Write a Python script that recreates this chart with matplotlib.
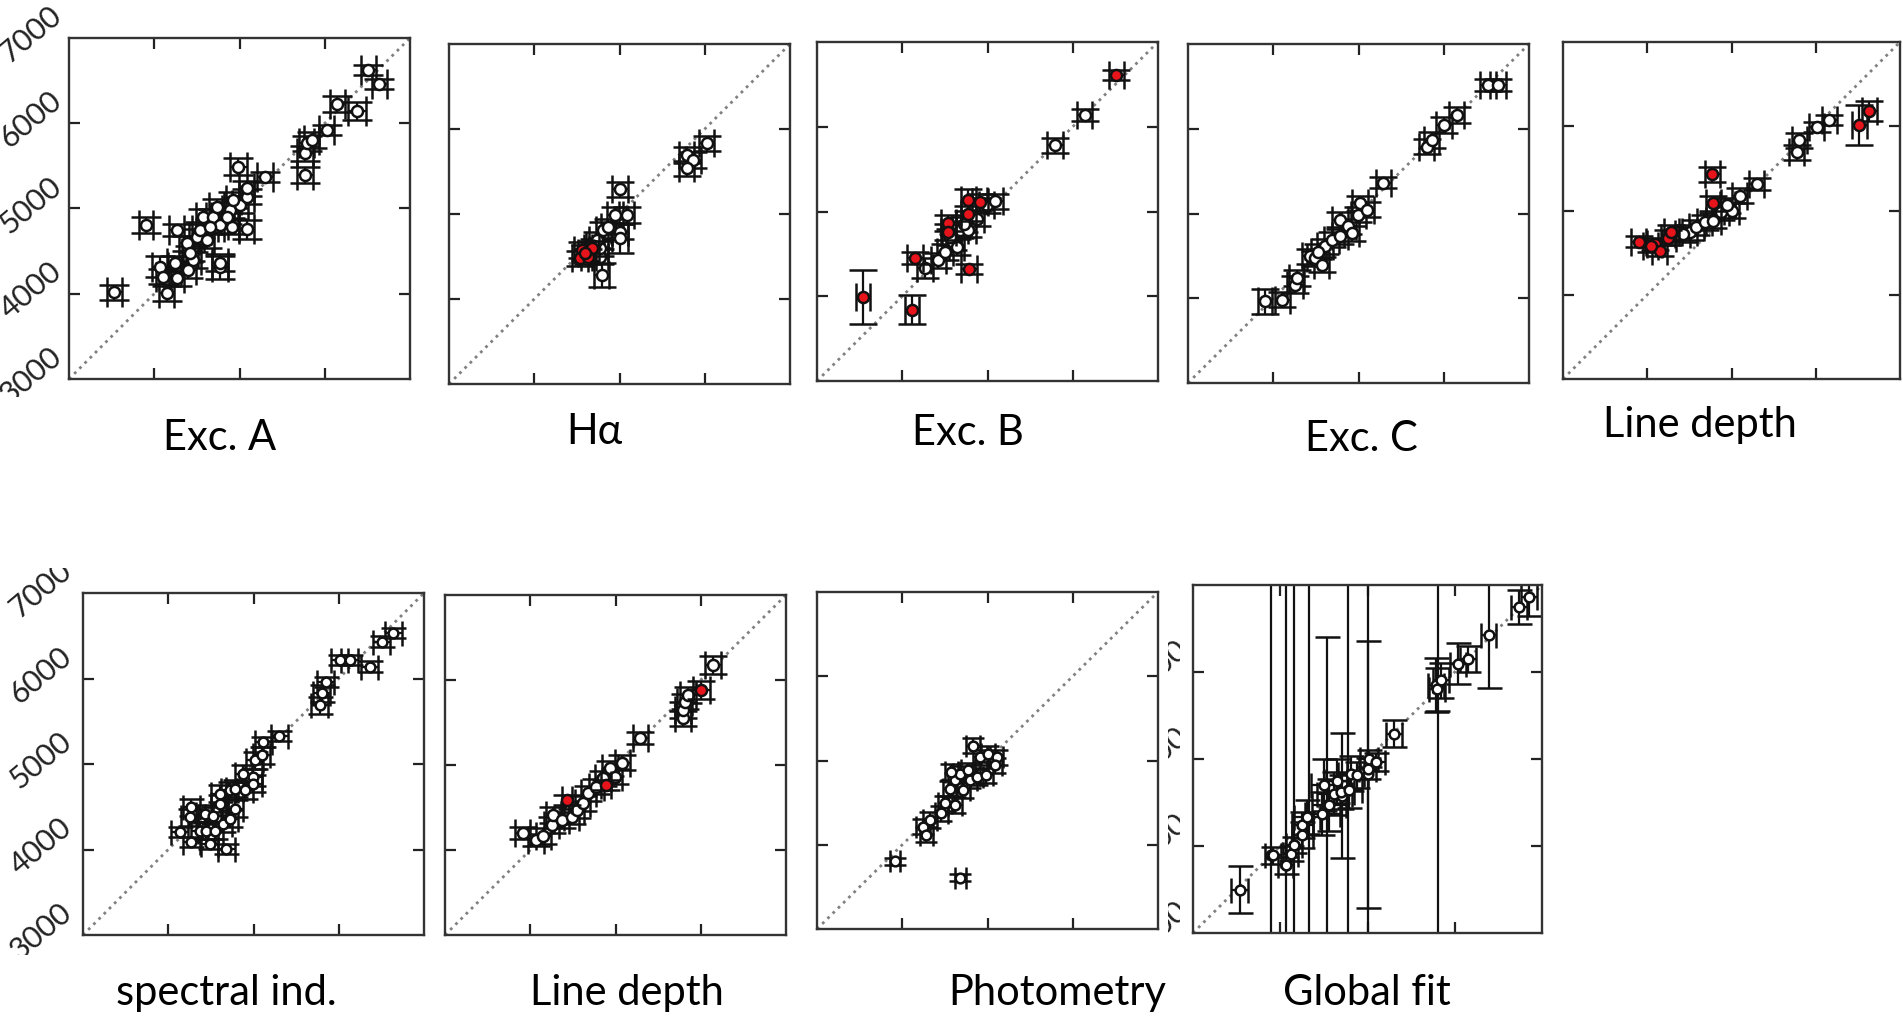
import matplotlib.pyplot as plt
from matplotlib.transforms import Bbox, blended_transform_factory

# ---- data (Teff, K) ----
# Exc. A
A_X = [3532, 3903, 4146, 4067, 4106, 4263, 4243, 4458, 4497, 4536, 4263, 4614, 4575, 4693, 4732,
       4771, 4888, 4908, 5005, 5083, 5083, 5083, 4986, 4771, 4771, 5299, 5768, 5768, 5788, 5846,
       6022, 6147, 6374, 6511, 6640, 4380, 4419, 4849, 4654, 4927, 4400]
A_Y = [4017, 4806, 4005, 4318, 4200, 4181, 4357, 4396, 4670, 4748, 4748, 4630, 4904, 4904, 5022,
       4806, 4982, 4787, 5041, 5139, 5237, 4756, 5491, 4318, 4357, 5373, 5393, 5647, 5764, 5804,
       5921, 6226, 6144, 6625, 6456, 4591, 4474, 4904, 4787, 5100, 4280]
A_XE = [85, 85, 90, 90, 90, 90, 90, 90, 90, 90, 90, 90, 90, 90, 90,
        90, 90, 90, 90, 90, 90, 90, 100, 90, 90, 90, 90, 90, 90, 90,
        90, 90, 105, 90, 90, 90, 90, 90, 90, 90, 90]
A_YE = [85, 90, 90, 120, 90, 90, 90, 90, 90, 90, 70, 90, 90, 90, 90,
        90, 90, 90, 90, 90, 90, 110, 100, 150, 90, 60, 90, 90, 90, 90,
        60, 90, 105, 60, 60, 90, 90, 90, 90, 90, 90]

# H-alpha
B_X = [4791, 4771, 4771, 4732, 4810, 4869, 4947, 5084, 5006, 5006, 5006, 5788, 5866, 5788, 6022, 4700]
B_Y = [4282, 4498, 4596, 4694, 4812, 4851, 4988, 4988, 4792, 4714, 5290, 5694, 5635, 5537, 5831, 4620]
B_XE = [90] * 16
B_YE = [140, 90, 90, 90, 90, 90, 90, 90, 90, 170, 90, 90, 90, 90, 90, 90]
B_RX = [4556, 4673, 4537, 4634, 4600]
B_RY = [4576, 4596, 4478, 4498, 4540]
B_RXE = [90] * 5
B_RYE = [90] * 5

# Exc. B
C_X = [4268, 4424, 4502, 4600, 4678, 4776, 4873, 4990, 5088, 4639, 4560, 4720, 5790, 6141]
C_Y = [4337, 4424, 4522, 4640, 4778, 4786, 4915, 5073, 5120, 4581, 4700, 4850, 5781, 6135]
C_XE = [90] * 14
C_YE = [120, 90, 90, 90, 90, 90, 90, 90, 90, 90, 90, 90, 90, 70]
C_RX = [3539, 4112, 4151, 4541, 4541, 4776, 4776, 4912, 4784, 6512]
C_RY = [3991, 3842, 4451, 4864, 4758, 4974, 5140, 5112, 4322, 6607]
C_RXE = [80, 80, 90, 90, 90, 90, 90, 90, 90, 90]
C_RYE = [320, 170, 70, 90, 90, 90, 130, 90, 60, 60]

# Exc. C
D_X = [3905, 4108, 4257, 4276, 4432, 4491, 4569, 4608, 4686, 4784, 4784, 4881, 4920, 4998, 5018,
       5096, 4530, 5291, 5798, 5857, 6001, 6150, 6520, 6637]
D_Y = [3963, 3982, 4159, 4238, 4493, 4473, 4395, 4611, 4690, 4729, 4925, 4847, 4768, 4984, 5122,
       5043, 4550, 5365, 5790, 5868, 6045, 6163, 6517, 6517]
D_XE = [80] + [90] * 23
D_YE = [145, 90, 100, 90, 90, 90, 90, 90, 90, 90, 90, 90, 90, 90, 90,
        90, 90, 70, 90, 90, 90, 90, 70, 70]

# Line depth (top row)
E_X = [4505, 4584, 4683, 4782, 4881, 5000, 5099, 4950, 5297, 5772, 5804, 6010, 6160, 4420]
E_Y = [4743, 4802, 4861, 4881, 4980, 5000, 5178, 5060, 5317, 5693, 5832, 5990, 6069, 4720]
E_XE = [90] * 14
E_YE = [90, 90, 90, 90, 90, 90, 90, 90, 70, 90, 90, 60, 60, 90]
E_RX = [3899, 4089, 4149, 4248, 4287, 4040, 4782, 4774, 6517, 6636]
E_RY = [4632, 4604, 4525, 4675, 4743, 4580, 5087, 5428, 6018, 6180]
E_RXE = [90] * 10
E_RYE = [70, 70, 70, 90, 90, 70, 90, 90, 237, 120]

# spectral ind.
F_X = [4135, 4272, 4252, 4272, 4370, 4448, 4429, 4487, 4526, 4546, 4605, 4605, 4644, 4683, 4722,
       4781, 4781, 4722, 4879, 4898, 4996, 5016, 4996, 5094, 5114, 5301, 5779, 5798, 5849, 6014,
       6131, 6366, 6503, 6640]
F_Y = [4202, 4495, 4378, 4084, 4221, 4221, 4417, 4065, 4397, 4221, 4652, 4534, 4299, 4006, 4691,
       4710, 4476, 4358, 4887, 4691, 4847, 5043, 4769, 5102, 5258, 5325, 5689, 5826, 5963, 6217,
       6217, 6139, 6432, 6530]
F_XE = [100] * 34
F_YE = [60, 100, 100, 60, 100, 100, 100, 60, 100, 100, 100, 100, 100, 60, 100,
        100, 100, 100, 100, 100, 100, 100, 100, 100, 60, 60, 100, 100, 60, 60,
        60, 60, 60, 60]

# Line depth (bottom row)
G_X = [3910, 4066, 4152, 4250, 4270, 4367, 4484, 4543, 4613, 4680, 4777, 4855, 4934, 4992, 5082,
       5293, 5793, 5793, 5813, 5852, 6145]
G_Y = [4196, 4118, 4165, 4294, 4412, 4353, 4392, 4471, 4549, 4667, 4745, 4843, 4961, 4863, 5027,
       5314, 5549, 5647, 5745, 5824, 6176]
G_XE = [90] * 21
G_YE = [70, 70, 90, 90, 90, 90, 90, 90, 90, 90, 90, 90, 90, 90, 90,
        70, 90, 90, 90, 90, 110]
G_RX = [4434, 4887, 6008]
G_RY = [4588, 4765, 5882]
G_RXE = [60, 60, 100]
G_RYE = [60, 60, 110]

# Photometry
H_X = [3912, 4683, 4245, 4284, 4323, 4460, 4499, 4558, 4616, 4616, 4675, 4714, 4773, 4793, 4871,
       4832, 4910, 5008, 5106, 5086, 4988, 4577]
H_Y = [3804, 3608, 4216, 4118, 4294, 4373, 4490, 4667, 4765, 4471, 4843, 4647, 4882, 4765, 4804,
       5176, 5039, 5078, 5039, 4941, 4824, 4863]
H_XE = [60, 60] + [80] * 20
H_YE = [40, 40] + [90] * 20

# Global fit
I_X = [3536, 3920, 4061, 4119, 4157, 4253, 4253, 4310, 4483, 4559, 4617, 4693, 4789, 4808, 4885,
       5000, 5019, 5096, 4500, 4650, 5307, 5785, 5800, 5843, 6034, 6149, 6387, 6736, 6851]
I_Y = [3498, 3893, 3778, 3912, 4008, 4123, 4238, 4333, 4372, 4467, 4602, 4621, 4640, 4831, 4812,
       4889, 5004, 4966, 4700, 4750, 5291, 5847, 5800, 5904, 6096, 6153, 6421, 6747, 6862]
I_XE = [96, 90, 90, 90, 90, 120, 120, 150, 200, 200, 200, 150, 150, 150, 120,
        100, 100, 100, 150, 120, 90, 90, 90, 90, 90, 90, 90, 90, 90]
I_YE = [272, 100, 100, 90, 90, 150, 150, 200, 250, 300, 250, 200, 200, 200, 150,
        120, 100, 100, 300, 250, 153, 310, 250, 200, 238, 150, 605, 200, 220]
# points whose vertical error bars run off the panel
I_BX = [3897, 4061, 4157, 4330, 4778, 5008, 5805, 4533, 5008, 4713]
I_BY = [3893, 3778, 4008, 4333, 4640, 4889, 5847, 4467, 4824, 4579]
I_BYE = [4000, 4000, 4000, 4000, 4000, 4000, 4000, 1935, 1534, 716]

LABELS = ["Exc. A", "Hα", "Exc. B", "Exc. C", "Line depth",
          "spectral ind.", "Line depth", "Photometry", "Global fit"]
TICKS = [3000, 4000, 5000, 6000, 7000]

W, H = 1903, 1017
plt.rcParams['font.family'] = ['Lato', 'DejaVu Sans']
fig = plt.figure(figsize=(W / 100, H / 100), dpi=100)
fig.patch.set_facecolor('white')


def pix_box(x0, y0, x1, y1):
    # pixel rectangle measured from the top-left -> display bbox
    return Bbox.from_extents(x0, H - y1, x1, H - y0)


def panel(l, t, r, b, caps=10, ms=8):
    ax = fig.add_axes([l / W, 1 - b / H, (r - l) / W, (b - t) / H])
    ax.plot([3000, 7000], [3000, 7000], ls=':', color='#808080', lw=2, zorder=1)
    ax.set_xlim(3000, 7000)
    ax.set_ylim(3000, 7000)
    ax.set_xticks(TICKS[1:-1])
    ax.set_yticks(TICKS[1:-1])
    ax.tick_params(direction='in', length=8, width=1.6, color='#222',
                   top=True, right=True, labelbottom=False, labelleft=False)
    for s in ax.spines.values():
        s.set_linewidth(1.7)
        s.set_color('#333333')
    ax.caps = caps
    ax.ms = ms
    return ax


def pts(ax, x, y, xe, ye, face='white', z=2):
    ax.errorbar(x, y, xerr=xe, yerr=ye, fmt='o', ms=ax.ms, mfc=face, mec='#111111', mew=1.8,
                ecolor='#111111', elinewidth=1.6, capsize=ax.caps, capthick=1.6, zorder=z)


def ylabels(ax, clip, off=40):
    tr = blended_transform_factory(fig.transFigure, ax.transData)
    x0 = ax.get_position().x0 - off / W
    for v in TICKS:
        t = fig.text(x0, v + 40, str(v), transform=tr, rotation=40, ha='center', va='center',
                     fontsize=22, color='#222222', clip_on=True)
        t.set_clip_box(pix_box(*clip))


RED = '#e8141c'

ax1 = panel(69, 38, 410, 379, caps=10.5)
pts(ax1, A_X, A_Y, A_XE, A_YE)
ylabels(ax1, (0, 0, 68, 397), 38)

ax2 = panel(449, 44, 790, 384)
pts(ax2, B_X, B_Y, B_XE, B_YE)
pts(ax2, B_RX, B_RY, B_RXE, B_RYE, RED, 3)

ax3 = panel(817, 42, 1158, 381)
pts(ax3, C_X, C_Y, C_XE, C_YE)
pts(ax3, C_RX, C_RY, C_RXE, C_RYE, RED, 3)

ax4 = panel(1188, 44, 1529, 383)
pts(ax4, D_X, D_Y, D_XE, D_YE)

ax5 = panel(1563, 42, 1900, 379)
pts(ax5, E_X, E_Y, E_XE, E_YE)
pts(ax5, E_RX, E_RY, E_RXE, E_RYE, RED, 3)

ax6 = panel(83, 593, 424, 935, caps=9, ms=7)
pts(ax6, F_X, F_Y, F_XE, F_YE)
ylabels(ax6, (0, 568, 82, 955), 42)

ax7 = panel(445, 595, 786, 935)
pts(ax7, G_X, G_Y, G_XE, G_YE)
pts(ax7, G_RX, G_RY, G_RXE, G_RYE, RED, 3)

ax8 = panel(817, 592, 1158, 929, caps=8, ms=7)
pts(ax8, H_X, H_Y, H_XE, H_YE)

ax9 = panel(1193, 585, 1542, 933, caps=9, ms=7)
pts(ax9, I_BX, I_BY, None, I_BYE)
pts(ax9, I_X, I_Y, I_XE, I_YE)
ylabels(ax9, (1168, 600, 1180, 940), 36)

# panel captions: (centre x, baseline y) in pixels
LAB_POS = [(220, 450), (594, 444), (968, 445), (1361, 451), (1700, 437),
           (226, 1005), (627, 1005), (1057, 1005), (1367, 1005)]
for s, (cx, by) in zip(LABELS, LAB_POS):
    fig.text(cx / W, 1 - by / H, s, ha='center', va='baseline', fontsize=30, color='black')

fig.savefig('out.png', dpi=100, facecolor='white')
